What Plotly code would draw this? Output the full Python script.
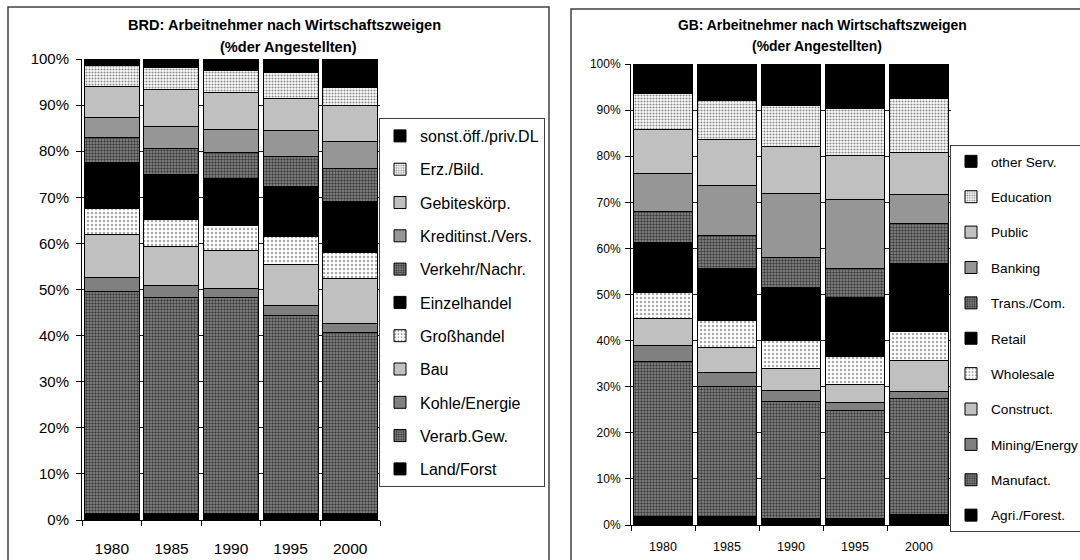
import plotly.graph_objects as go

years = ['1980', '1985', '1990', '1995', '2000']

# BRD: share of employees by sector (%), bottom to top of each bar
brd_names = ['Land/Forst', 'Verarb.Gew.', 'Kohle/Energie', 'Bau', 'Großhandel', 'Einzelhandel',
             'Verkehr/Nachr.', 'Kreditinst./Vers.', 'Gebiteskörp.', 'Erz./Bild.', 'sonst.öff./priv.DL']
brd_land = [1.5, 1.5, 1.5, 1.5, 1.5]
brd_verarb = [48.0, 46.7, 46.7, 42.9, 39.2]
brd_kohle = [3.1, 2.7, 2.1, 2.1, 2.0]
brd_bau = [9.4, 8.5, 8.2, 9.0, 9.6]
brd_gross = [5.6, 5.7, 5.3, 6.1, 5.7]
brd_einzel = [9.9, 9.8, 10.3, 10.8, 11.0]
brd_verkehr = [5.5, 5.6, 5.7, 6.4, 7.3]
brd_kredit = [4.3, 4.9, 4.9, 5.7, 5.7]
brd_gebiet = [6.8, 8.0, 8.1, 6.9, 8.0]
brd_erz = [4.5, 4.8, 4.7, 5.7, 3.9]
brd_sonst = [1.4, 1.8, 2.5, 2.9, 6.1]

# GB: share of employees by sector (%), bottom to top
gb_names = ['Agri./Forest.', 'Manufact.', 'Mining/Energy', 'Construct.', 'Wholesale', 'Retail',
            'Trans./Com.', 'Banking', 'Public', 'Education', 'other Serv.']
gb_agri = [1.8, 1.8, 1.5, 1.5, 2.2]
gb_manuf = [33.6, 28.2, 25.3, 23.3, 25.3]
gb_mining = [3.6, 3.1, 2.3, 1.7, 1.4]
gb_construct = [5.8, 5.4, 4.9, 3.9, 6.7]
gb_wholesale = [5.6, 5.8, 6.0, 6.1, 6.4]
gb_retail = [10.8, 11.3, 11.6, 12.8, 14.7]
gb_trans = [6.8, 7.1, 6.5, 6.4, 8.8]
gb_banking = [8.2, 10.9, 13.8, 15.0, 6.2]
gb_public = [9.7, 10.0, 10.3, 9.4, 9.2]
gb_education = [7.7, 8.4, 8.9, 10.2, 11.6]
gb_other = [6.4, 8.0, 8.9, 9.7, 7.5]

brd_series = [brd_land, brd_verarb, brd_kohle, brd_bau, brd_gross, brd_einzel,
              brd_verkehr, brd_kredit, brd_gebiet, brd_erz, brd_sonst]
gb_series = [gb_agri, gb_manuf, gb_mining, gb_construct, gb_wholesale, gb_retail,
             gb_trans, gb_banking, gb_public, gb_education, gb_other]

W, H = 1080, 560
FONT = 'Liberation Sans, Arial, sans-serif'

# fill styles shared by both charts (same position in the stack)
solid = lambda c: dict(color=c)
dotted_dark = dict(color='#707070', pattern=dict(shape='.', fgcolor='#3c3c3c', bgcolor='#8c8c8c',
                                                  size=3, solidity=0.5, fillmode='replace'))
dotted_light = dict(color='#f0f0f0', pattern=dict(shape='.', fgcolor='#a8a8a8', bgcolor='#ffffff',
                                                   size=4, solidity=0.3, fillmode='replace'))
dotted_mid = dict(color='#e0e0e0', pattern=dict(shape='.', fgcolor='#8a8a8a', bgcolor='#ffffff',
                                                 size=3, solidity=0.4, fillmode='replace'))
styles = [solid('#000000'), dotted_dark, solid('#808080'), solid('#c0c0c0'), dotted_light,
          solid('#000000'), dotted_dark, solid('#969696'), solid('#c0c0c0'), dotted_mid,
          solid('#000000')]


def px_x(v):
    return v / W


def px_y(v):
    return 1 - v / H


fig = go.Figure()

# legend lists the top segment first, like the original
for i, (name, vals) in enumerate(zip(brd_names, brd_series)):
    m = dict(styles[i])
    m['line'] = dict(color='black', width=1)
    fig.add_trace(go.Bar(x=years, y=vals, name=name, marker=m, width=0.92,
                         xaxis='x', yaxis='y', legend='legend', legendgroup='b%d' % i,
                         legendrank=100 - i))

for i, (name, vals) in enumerate(zip(gb_names, gb_series)):
    m = dict(styles[i])
    m['line'] = dict(color='black', width=1)
    fig.add_trace(go.Bar(x=years, y=vals, name=name, marker=m, width=0.91,
                         xaxis='x2', yaxis='y2', legend='legend2', legendgroup='g%d' % i,
                         legendrank=100 - i))


def yax(domain, anchor, size, standoff):
    return dict(domain=domain, anchor=anchor, range=[0, 100], dtick=10, ticksuffix='%',
                showline=True, linecolor='black', linewidth=1, ticks='outside', ticklen=5,
                tickcolor='black', showgrid=True, gridcolor='#222222', gridwidth=1,
                zeroline=False, tickfont=dict(size=size, color='black'),
                ticklabelstandoff=standoff, fixedrange=True)


def xax(domain, anchor, size, standoff):
    return dict(domain=domain, anchor=anchor, type='category', range=[-0.5, 4.5],
                tickson='boundaries', ticks='outside', ticklen=5, tickcolor='black',
                showline=True, linecolor='black', linewidth=1, showgrid=False,
                tickfont=dict(size=size, color='black'), ticklabelstandoff=standoff,
                fixedrange=True)


fig.update_layout(
    width=W, height=H,
    margin=dict(l=0, r=0, t=0, b=0, autoexpand=False),
    paper_bgcolor='white', plot_bgcolor='white',
    font=dict(family=FONT, color='black'),
    barmode='stack',
    xaxis=xax([px_x(82), px_x(380)], 'y', 15.5, 14),
    yaxis=yax([px_y(520), px_y(59)], 'x', 15, 4),
    xaxis2=xax([px_x(631), px_x(951)], 'y2', 12.5, 10),
    yaxis2=yax([px_y(525), px_y(64)], 'x2', 12, 2),
    legend=dict(x=px_x(379), y=px_y(118), xanchor='left', yanchor='top',
                bgcolor='white', bordercolor='#404040', borderwidth=1,
                font=dict(size=16), traceorder='grouped', tracegroupgap=9.5),
    legend2=dict(x=px_x(950), y=px_y(145), xanchor='left', yanchor='top',
                 bgcolor='white', bordercolor='#404040', borderwidth=1,
                 font=dict(size=13.6), traceorder='grouped', tracegroupgap=14.7),
    showlegend=True,
)

titles = [
    (284, 25, 'BRD: Arbeitnehmer nach Wirtschaftszweigen', 14.6),
    (288, 47, '(%der Angestellten)', 14.6),
    (822, 25, 'GB: Arbeitnehmer nach Wirtschaftszweigen', 13.9),
    (817, 46, '(%der Angestellten)', 13.9),
]
for x, y, text, size in titles:
    fig.add_annotation(x=px_x(x), y=px_y(y), xref='paper', yref='paper', text='<b>%s</b>' % text,
                       showarrow=False, xanchor='center', yanchor='middle',
                       font=dict(size=size, color='black'))

# outer chart frames
for x0, y0, x1 in [(8, 7, 549), (571, 9, 1090)]:
    fig.add_shape(type='rect', xref='paper', yref='paper',
                  x0=px_x(x0), x1=px_x(x1), y0=px_y(570), y1=px_y(y0),
                  line=dict(color='#404040', width=1.5), fillcolor='rgba(0,0,0,0)', layer='below')

# drop the browser's default page margin so the figure sits at the window's corner
fig.write_html('out.html', config={'displayModeBar': False},
               post_script="document.body.style.margin='0';")
